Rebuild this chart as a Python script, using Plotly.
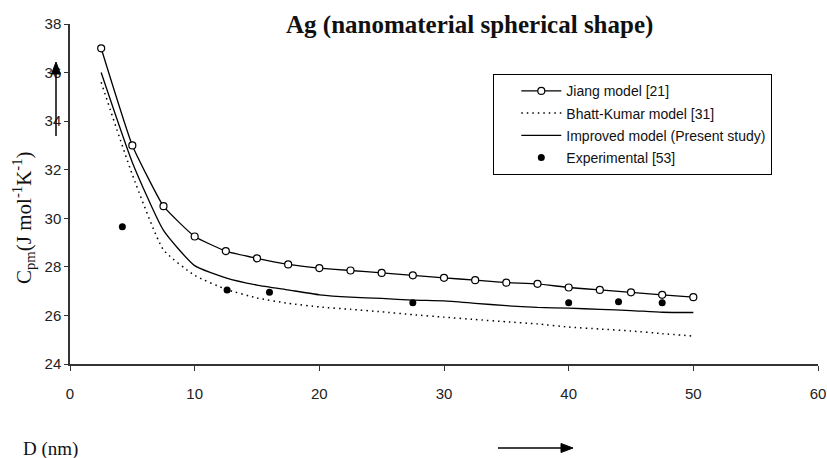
import plotly.graph_objects as go

# ---- data ----
D = [2.5, 5, 7.5, 10, 12.5, 15, 17.5, 20, 22.5, 25,
     27.5, 30, 32.5, 35, 37.5, 40, 42.5, 45, 47.5, 50]
jiang = [37.0, 33.0, 30.5, 29.25, 28.65, 28.35, 28.1, 27.95, 27.85, 27.75,
         27.65, 27.55, 27.45, 27.35, 27.3, 27.15, 27.05, 26.95, 26.85, 26.75]
bhatt = [35.6, 31.8, 28.7, 27.65, 27.08, 26.72, 26.5, 26.35, 26.25, 26.15,
         26.03, 25.93, 25.83, 25.74, 25.65, 25.52, 25.44, 25.36, 25.25, 25.15]
improved = [36.0, 32.3, 29.5, 28.05, 27.55, 27.25, 27.05, 26.85, 26.75, 26.7,
            26.63, 26.6, 26.5, 26.4, 26.33, 26.3, 26.25, 26.2, 26.13, 26.12]
exp_D = [4.2, 12.6, 16.0, 27.5, 40.0, 44.0, 47.5]
exp_C = [29.65, 27.05, 26.95, 26.52, 26.52, 26.56, 26.52]

x_ticks = [0, 10, 20, 30, 40, 50, 60]
y_ticks = [24, 26, 28, 30, 32, 34, 36, 38]

fig = go.Figure()
fig.add_trace(go.Scatter(
    x=D, y=jiang, mode="lines+markers", name="Jiang model [21]",
    legendgroup="a",
    line=dict(color="black", width=1.3, shape="spline", smoothing=0.4),
    marker=dict(symbol="circle", size=7, color="white",
                line=dict(color="black", width=1.2))))
fig.add_trace(go.Scatter(
    x=D, y=bhatt, mode="lines", name="Bhatt-Kumar model [31]",
    legendgroup="b", line=dict(color="black", width=1.5, dash="1.5px,4px",
                               shape="spline", smoothing=0.5)))
fig.add_trace(go.Scatter(
    x=D, y=improved, mode="lines", name="Improved model (Present study)",
    legendgroup="c", line=dict(color="black", width=1.3,
                               shape="spline", smoothing=0.5)))
fig.add_trace(go.Scatter(
    x=exp_D, y=exp_C, mode="markers", name="Experimental [53]",
    legendgroup="d",
    marker=dict(symbol="circle", size=7, color="black")))

L, R, T, B = 70, 818, 24, 364
W, H = 827, 458

def px(xp):
    return (xp - L) / (R - L)

def py(yp):
    return (B - yp) / (B - T)

tickfont = dict(family="Liberation Sans, Arial, sans-serif", size=15, color="#222")

fig.update_layout(
    width=W, height=H,
    margin=dict(l=L, r=W - R, t=T, b=H - B, autoexpand=False),
    paper_bgcolor="white", plot_bgcolor="white",
    showlegend=True,
    legend=dict(x=px(493), y=py(74), xanchor="left", yanchor="top",
                bgcolor="white", bordercolor="black", borderwidth=1.3,
                font=dict(family="Liberation Sans, Arial, sans-serif",
                          size=14, color="#111"),
                tracegroupgap=1, indentation=22, itemwidth=40),
    xaxis=dict(range=[0, 60], tickvals=x_ticks, ticktext=[str(v) for v in x_ticks],
               showgrid=False, zeroline=False, showline=True, automargin=False,
               linecolor="#333", linewidth=1.5, ticks="outside",
               ticklen=5, tickcolor="#333", tickwidth=1.3,
               tickfont=tickfont, ticklabelstandoff=10),
    yaxis=dict(range=[24, 38], tickvals=y_ticks, ticktext=[str(v) for v in y_ticks],
               showgrid=False, zeroline=False, showline=True, automargin=False,
               linecolor="#333", linewidth=1.5, ticks="outside",
               ticklen=4, tickcolor="#333", tickwidth=1.3,
               tickfont=tickfont),
)

serif = "Liberation Serif, Times New Roman, serif"
annotations = [
    dict(text="<b>Ag (nanomaterial spherical shape)</b>", x=px(469), y=py(25),
         xref="paper", yref="paper", xanchor="center", yanchor="middle",
         showarrow=False, font=dict(family=serif, size=25, color="#111")),
    dict(text="C<sub>pm</sub>(J mol<sup>-1</sup>K<sup>-1</sup>)", x=px(23), y=py(218),
         xref="paper", yref="paper", xanchor="center", yanchor="middle",
         textangle=-90, showarrow=False,
         font=dict(family=serif, size=21, color="#111")),
    dict(text="D (nm)", x=px(50), y=py(449),
         xref="paper", yref="paper", xanchor="center", yanchor="middle",
         showarrow=False, font=dict(family=serif, size=19, color="#111")),
]
fig.update_layout(annotations=annotations)

# arrows drawn as shapes (paper coordinates)
shapes = [
    dict(type="line", xref="paper", yref="paper",
         x0=px(56), y0=py(136), x1=px(56), y1=py(70),
         line=dict(color="black", width=1.5)),
    dict(type="path", xref="paper", yref="paper",
         path=f"M {px(56)},{py(62)} L {px(51.5)},{py(74)} L {px(60.5)},{py(74)} Z",
         fillcolor="black", line=dict(color="black", width=1)),
    dict(type="line", xref="paper", yref="paper",
         x0=px(498), y0=py(448), x1=px(564), y1=py(448),
         line=dict(color="black", width=1.5)),
    dict(type="path", xref="paper", yref="paper",
         path=f"M {px(573)},{py(448)} L {px(561)},{py(443.5)} L {px(561)},{py(452.5)} Z",
         fillcolor="black", line=dict(color="black", width=1)),
]
fig.update_layout(shapes=shapes)

fig.write_html("out.html")
